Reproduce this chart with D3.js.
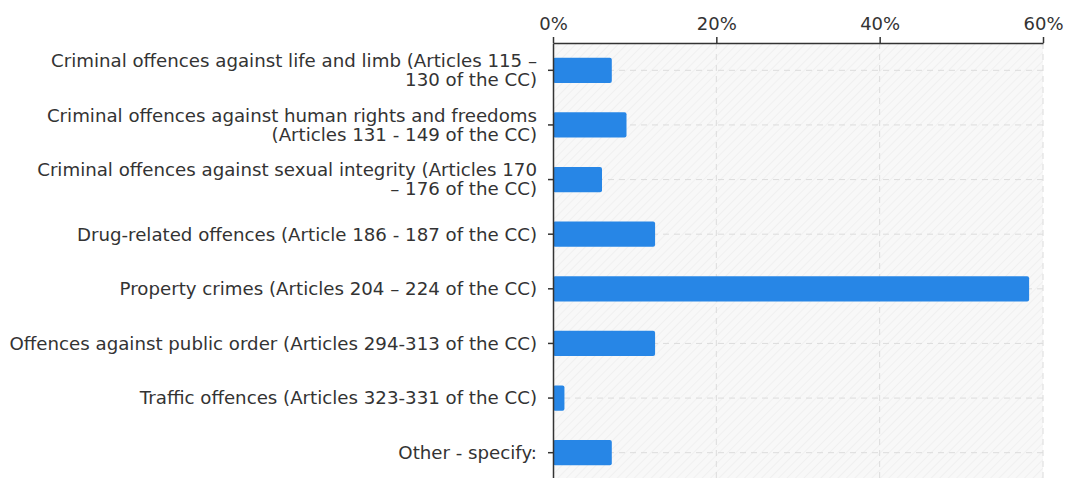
<!DOCTYPE html>
<html>
<head>
<meta charset="utf-8">
<script src="https://cdn.jsdelivr.net/npm/d3@7"></script>
<style>
  body { margin: 0; background: #fff; }
  svg { display: block; font-family: "DejaVu Sans", Verdana, sans-serif; }
</style>
</head>
<body>
<div id="app"></div>
<script>
const width = 1065
const height = 478
const margin = { top: 43, right: 22, bottom: -2, left: 553 }

// categories (each label split into its printed lines)
const categories = [
    ["Criminal offences against life and limb (Articles 115 –", "130 of the CC)"],
    ["Criminal offences against human rights and freedoms", "(Articles 131 - 149 of the CC)"],
    ["Criminal offences against sexual integrity (Articles 170", "– 176 of the CC)"],
    ["Drug-related offences (Article 186 - 187 of the CC)"],
    ["Property crimes (Articles 204 – 224 of the CC)"],
    ["Offences against public order (Articles 294-313 of the CC)"],
    ["Traffic offences (Articles 323-331 of the CC)"],
    ["Other - specify:"]
]
const values = [7.2, 9.0, 6.0, 12.5, 58.3, 12.5, 1.4, 7.2]
const xTicks = [0, 20, 40, 60]

const x = d3.scaleLinear()
    .domain([0, 60])
    .range([margin.left, width - margin.right])

const y = d3.scaleBand()
    .domain(d3.range(categories.length))
    .range([margin.top, height - margin.bottom])
    .paddingInner(0.54)
    .paddingOuter(0.27)

const svg = d3.select("#app").append("svg")
    .attr("width", width)
    .attr("height", height)

const defs = svg.append("defs")
const pat = defs.append("pattern")
    .attr("id", "hatch")
    .attr("patternUnits", "userSpaceOnUse")
    .attr("width", 6)
    .attr("height", 6)
    .attr("patternTransform", "rotate(45)")
pat.append("rect").attr("width", 6).attr("height", 6).attr("fill", "#f8f8f8")
pat.append("line")
    .attr("x1", 0).attr("y1", 0).attr("x2", 0).attr("y2", 6)
    .attr("stroke", "#ececec").attr("stroke-width", 1.2)

// plot background
svg.append("rect")
    .attr("x", x(0))
    .attr("y", margin.top)
    .attr("width", x(60) - x(0))
    .attr("height", height - margin.top)
    .attr("fill", "url(#hatch)")

// gridlines
svg.append("g")
    .selectAll("line")
    .data(xTicks.slice(1))
    .join("line")
    .attr("x1", d => x(d)).attr("x2", d => x(d))
    .attr("y1", margin.top).attr("y2", height)
    .attr("stroke", "#dcdcdc")
    .attr("stroke-dasharray", "6,5")

svg.append("g")
    .selectAll("line")
    .data(d3.range(categories.length))
    .join("line")
    .attr("x1", x(0)).attr("x2", x(60))
    .attr("y1", i => y(i) + y.bandwidth() / 2)
    .attr("y2", i => y(i) + y.bandwidth() / 2)
    .attr("stroke", "#dcdcdc")
    .attr("stroke-dasharray", "6,5")

// bars
svg.append("g")
    .selectAll("rect")
    .data(values)
    .join("rect")
    .attr("x", x(0))
    .attr("y", (d, i) => y(i))
    .attr("width", d => x(d) - x(0))
    .attr("height", y.bandwidth())
    .attr("rx", 2)
    .attr("fill", "#2786e6")

// top axis
const xAxis = svg.append("g")
    .attr("transform", `translate(0, ${margin.top})`)
    .call(d3.axisTop(x).tickValues(xTicks).tickFormat(d => d + "%").tickSize(6).tickSizeOuter(0))
xAxis.select(".domain").attr("stroke", "#333").attr("stroke-width", 1.5)
xAxis.selectAll(".tick line").attr("stroke", "#333").attr("stroke-width", 1.5)
xAxis.selectAll(".tick text")
    .attr("fill", "#333")
    .attr("font-size", 18)
    .attr("font-family", "DejaVu Sans, sans-serif")
    .attr("dy", "-0.25em")

// left axis
const yAxis = svg.append("g")
    .attr("transform", `translate(${x(0)}, 0)`)
    .call(d3.axisLeft(y).tickSize(5).tickSizeOuter(0).tickFormat(""))
yAxis.select(".domain").attr("stroke", "#333").attr("stroke-width", 1.5)
yAxis.selectAll(".tick line").attr("stroke", "#333").attr("stroke-width", 1.5)

const lineH = 19
svg.append("g")
    .selectAll("text")
    .data(categories)
    .join("text")
    .attr("text-anchor", "end")
    .attr("font-size", 18.2)
    .attr("fill", "#333")
    .attr("transform", (d, i) => `translate(${x(0) - 16}, ${y(i) + y.bandwidth() / 2})`)
    .each(function (lines) {
        const t = d3.select(this)
        const off = -(lines.length - 1) * lineH / 2
        lines.forEach((s, k) => {
            t.append("tspan")
                .attr("x", 0)
                .attr("y", off + k * lineH)
                .attr("dy", "0.35em")
                .text(s)
        })
    })
</script>
</body>
</html>
